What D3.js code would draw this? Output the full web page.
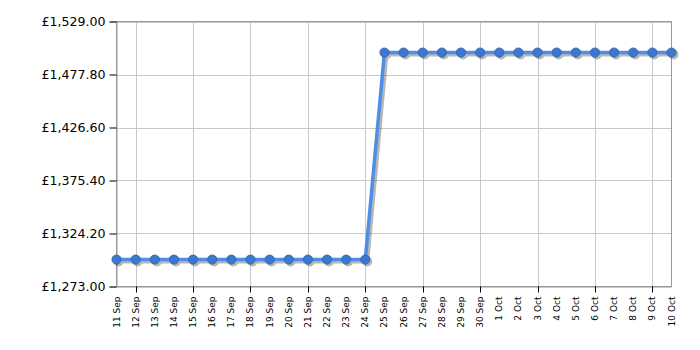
<!DOCTYPE html>
<html><head><meta charset="utf-8">
<script src="https://cdn.jsdelivr.net/npm/d3@7"></script>
<style>body{margin:0;background:#fff;} svg{display:block;}</style>
</head><body>
<svg id="chart" width="700" height="350"></svg>
<script>
const dates = ["11 Sep","12 Sep","13 Sep","14 Sep","15 Sep","16 Sep","17 Sep","18 Sep","19 Sep","20 Sep","21 Sep","22 Sep","23 Sep","24 Sep","25 Sep","26 Sep","27 Sep","28 Sep","29 Sep","30 Sep","1 Oct","2 Oct","3 Oct","4 Oct","5 Oct","6 Oct","7 Oct","8 Oct","9 Oct","10 Oct"];
const prices = [1299,1299,1299,1299,1299,1299,1299,1299,1299,1299,1299,1299,1299,1299,1499,1499,1499,1499,1499,1499,1499,1499,1499,1499,1499,1499,1499,1499,1499,1499];
const yTicks = [1273.00,1324.20,1375.40,1426.60,1477.80,1529.00];
const xTickDates = ["12 Sep","15 Sep","18 Sep","21 Sep","24 Sep","27 Sep","30 Sep","3 Oct","6 Oct","9 Oct"];

const svg = d3.select("#chart");
const m = {left:116.5, right:671.5, top:21.5, bottom:286.5};
const x = d3.scalePoint().domain(dates).range([m.left, m.right]);
const y = d3.scaleLinear().domain([1273, 1529]).range([m.bottom, m.top]);
const font = "DejaVu Sans, Verdana, sans-serif";

// gridlines
svg.append("g").selectAll("line").data(yTicks).join("line")
  .attr("x1", m.left).attr("x2", m.right)
  .attr("y1", d => Math.round(y(d)) + 0.5).attr("y2", d => Math.round(y(d)) + 0.5)
  .attr("stroke", "#c8c8c8").attr("stroke-width", 1);
svg.append("g").selectAll("line").data(xTickDates).join("line")
  .attr("x1", d => Math.round(x(d)) + 0.5).attr("x2", d => Math.round(x(d)) + 0.5)
  .attr("y1", m.top).attr("y2", m.bottom)
  .attr("stroke", "#c8c8c8").attr("stroke-width", 1);

// frame
svg.append("rect").attr("x", m.left).attr("y", m.top)
  .attr("width", m.right - m.left).attr("height", m.bottom - m.top)
  .attr("fill", "none").attr("stroke", "#999").attr("stroke-width", 1);

// y axis
const yAxis = d3.axisLeft(y).tickValues(yTicks).tickSize(7).tickPadding(4)
  .tickFormat(d => "£" + d3.format(",.2f")(d));
const gy = svg.append("g").attr("transform", `translate(${m.left},0)`).call(yAxis);
gy.select(".domain").attr("stroke", "#999");
gy.selectAll(".tick line").attr("stroke", "#000");
gy.selectAll("text").attr("font-family", font).attr("font-size", "12.6px").attr("fill", "#000");

// x axis
const gx = svg.append("g").attr("transform", `translate(0,${m.bottom})`);
gx.append("path").attr("d", `M${m.left},0H${m.right}`).attr("stroke", "#999");
gx.selectAll("line.tk").data(xTickDates).join("line").attr("class","tk")
  .attr("x1", d => Math.round(x(d)) + 0.5).attr("x2", d => Math.round(x(d)) + 0.5)
  .attr("y1", 0).attr("y2", 6).attr("stroke", "#000");
gx.selectAll("text").data(dates).join("text")
  .attr("transform", d => `translate(${x(d) + 3},10) rotate(-90)`)
  .attr("text-anchor", "end")
  .attr("font-family", font).attr("font-size", "9px").attr("fill", "#000")
  .text(d => d);

// shadow
const line = d3.line().x((d, i) => x(dates[i])).y(d => y(d));
const sh = svg.append("g").attr("transform", "translate(2,2)").attr("opacity", 0.35);
sh.append("path").datum(prices).attr("d", line).attr("fill", "none")
  .attr("stroke", "#333").attr("stroke-width", 4);
sh.selectAll("circle").data(prices).join("circle")
  .attr("cx", (d, i) => x(dates[i])).attr("cy", d => y(d)).attr("r", 5).attr("fill", "#333");

// line
svg.append("path").datum(prices).attr("d", line).attr("fill", "none")
  .attr("stroke", "#4f8ee6").attr("stroke-width", 3.5).attr("stroke-linejoin", "round");
svg.selectAll("circle.pt").data(prices).join("circle").attr("class", "pt")
  .attr("cx", (d, i) => x(dates[i])).attr("cy", d => y(d)).attr("r", 4.6)
  .attr("fill", "#3d78cc").attr("stroke", "#2f62ad").attr("stroke-width", 0.8);
</script>
</body></html>
